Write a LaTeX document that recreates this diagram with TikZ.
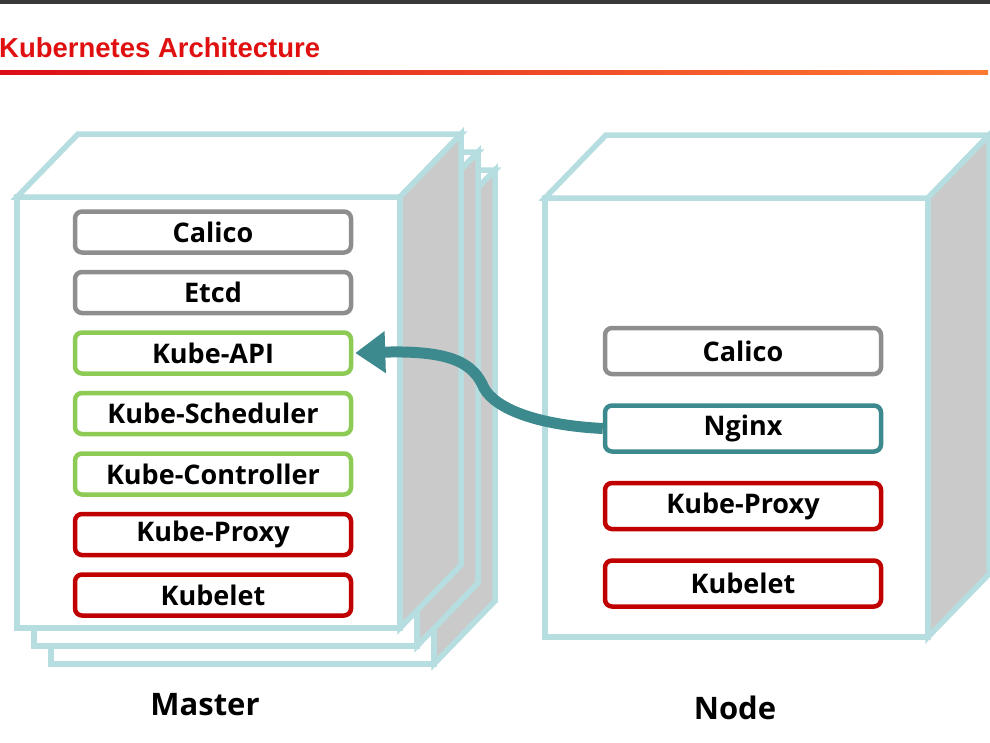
\documentclass[tikz,border=0pt]{standalone}
\usepackage{fontspec}
\setmainfont{Open Sans}
\newfontfamily\headfont{Liberation Sans}
\usetikzlibrary{arrows.meta,positioning}

\definecolor{cubeline}{HTML}{B6DEE0}
\definecolor{cubeside}{HTML}{CACACA}
\definecolor{greyline}{HTML}{8E8E8E}
\definecolor{greenline}{HTML}{8DCB55}
\definecolor{redline}{HTML}{C00000}
\definecolor{tealline}{HTML}{3C8A8E}
\definecolor{headred}{HTML}{E01010}

\tikzset{
  cube/.style={draw=cubeline,line width=5.5pt,line join=miter},
  comp/.style={draw,fill=white,rounded corners=7pt,line width=4.5pt,
    minimum width=276pt,font=\bfseries\fontsize{27}{30}\selectfont},
  grey comp/.style={comp,draw=greyline},
  green comp/.style={comp,draw=greenline},
  red comp/.style={comp,draw=redline},
  teal comp/.style={comp,draw=tealline}
}

% server drawn as a box: x, y (front top left), width, height
\newcommand{\serverbox}[4]{%
  \begin{scope}[shift={(#1,#2)}]
    \draw[cube,fill=white] (0,0) rectangle (#3,#4);
    \draw[cube,fill=white] (0,0) -- (61,-63) -- ({#3+61},-63) -- (#3,0) -- cycle;
    \draw[cube,fill=cubeside] (#3,0) -- ({#3+61},-63) -- ({#3+61},{#4-63}) -- (#3,#4) -- cycle;
  \end{scope}}

\begin{document}
\begin{tikzpicture}[x=1pt,y=-1pt]
\useasboundingbox (0,0) rectangle (990,742);

% heading
\fill[black!78] (0,0) rectangle (990,4);
\node[anchor=west,inner sep=0,text=headred,font=\headfont\bfseries\fontsize{27.5}{30}\selectfont] (title) at (-1,48) {Kubernetes Architecture};
\shade[left color=headred!85!purple,right color=orange!70!red!80] (0,70.5) rectangle (988,74);

% master (stacked) and node
\foreach \k in {2,1}
  \serverbox{17+17*\k}{197+18*\k}{383}{431};
\serverbox{17}{197}{383}{431}
\serverbox{545}{198}{383}{439}

% master components
\begin{scope}[node distance=15pt,minimum height=41pt]
\node[grey comp] (m-calico) at (213,232) {Calico};
\node[grey comp,below=of m-calico] (m-etcd) {Etcd};
\node[green comp,below=of m-etcd] (m-api) {Kube-API};
\node[green comp,below=of m-api] (m-sched) {Kube-Scheduler};
\node[green comp,below=of m-sched] (m-ctrl) {Kube-Controller};
\node[red comp,below=of m-ctrl] (m-proxy) {Kube-Proxy};
\node[red comp,below=of m-proxy] (m-kubelet) {Kubelet};
\end{scope}

% node components
\begin{scope}[node distance=27pt,minimum height=46pt]
\node[grey comp] (n-calico) at (743,351) {Calico};
\node[teal comp,below=of n-calico] (n-nginx) {Nginx};
\node[red comp,below=of n-nginx] (n-proxy) {Kube-Proxy};
\node[red comp,below=of n-proxy] (n-kubelet) {Kubelet};
\end{scope}

% nginx to api
\draw[tealline,line width=11pt,-{Triangle[length=30pt,width=40pt]}]
  (n-nginx.west) .. controls (535,425) and (495,408) .. (484,388)
  .. controls (474,365) and (455,350) .. ([xshift=2pt]m-api.east);

\node[font=\bfseries\fontsize{31}{34}\selectfont] (master) at (205,705) {Master};
\node[font=\bfseries\fontsize{31}{34}\selectfont] (node) at (735,708) {Node};
\end{tikzpicture}
\end{document}
